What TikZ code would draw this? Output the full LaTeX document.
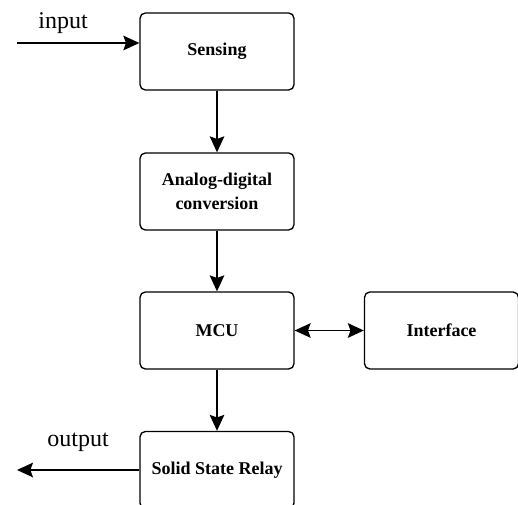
\documentclass[tikz,border=0pt]{standalone}
\usepackage{fontspec}
\setmainfont{Liberation Serif}
\usetikzlibrary{arrows.meta}

\begin{document}
\begin{tikzpicture}[x=0.75pt,y=-0.75pt,
  >={Stealth[length=12pt,width=11pt,inset=2pt]},
  block/.style={draw,line width=1pt,rounded corners=4pt,minimum width=115.5pt,
    minimum height=57.75pt,align=center,font=\fontsize{13.5}{17.5}\selectfont\bfseries},
  lbl/.style={font=\fontsize{18}{20}\selectfont},
  arr/.style={line width=1.1pt,->}]
\clip (0,0) rectangle (518,505);
\node[block] (sensing) at (217,51.5) {Sensing};
\node[block] (adc) at (217,191.5) {Analog-digital\\conversion};
\node[block] (mcu) at (217,330.5) {MCU};
\node[block] (iface) at (441.5,330.5) {Interface};
\node[block] (ssr) at (217,470) {Solid State Relay};
\coordinate (in) at (17,43);
\coordinate (out) at (17,470);
\node[lbl] (inlbl) at (63,23) {input};
\node[lbl] (outlbl) at (78,442) {output};
\draw[arr] (in) -- (in -| sensing.west);
\draw[arr] (sensing) -- (adc);
\draw[arr] (adc) -- (mcu);
\draw[arr] (mcu) -- (ssr);
\draw[arr,<->] (mcu) -- (iface);
\draw[arr] (ssr) -- (out);
\end{tikzpicture}
\end{document}
